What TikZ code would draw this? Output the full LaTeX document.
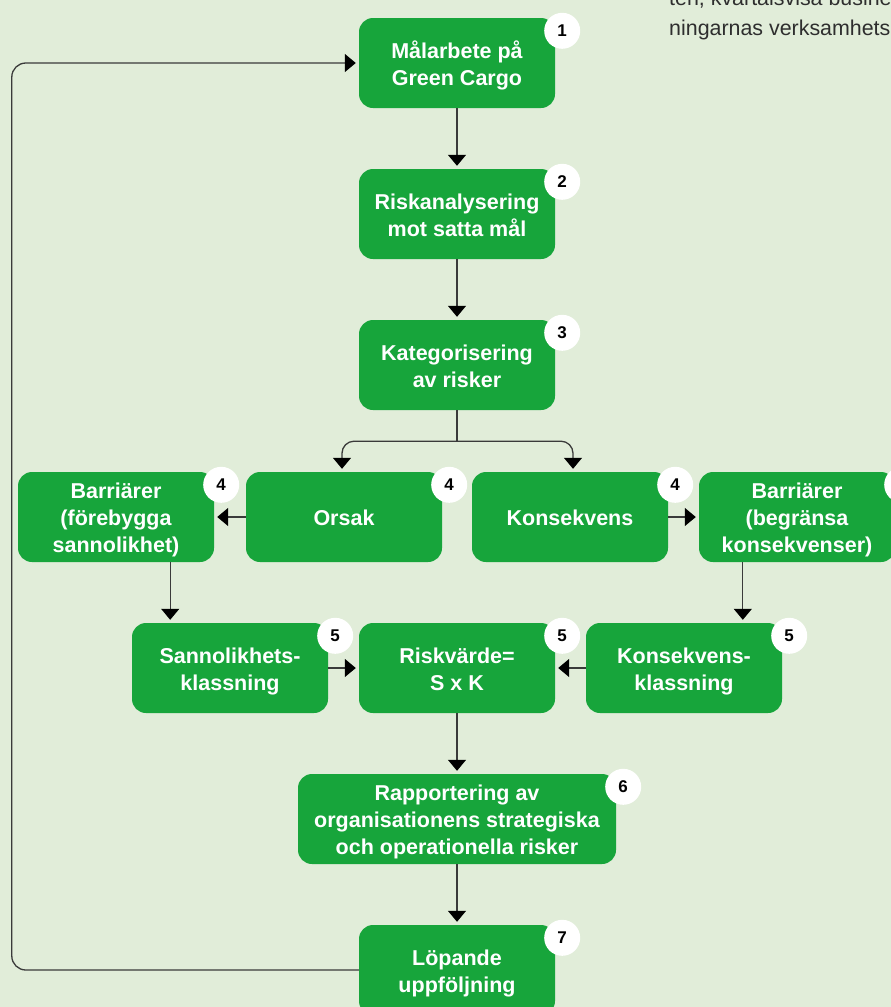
\documentclass[tikz,border=0pt]{standalone}
\usepackage{fontspec}
\setmainfont{Liberation Sans}
\usetikzlibrary{arrows.meta,calc}
\definecolor{bg}{HTML}{E1EDD9}
\definecolor{gc}{HTML}{17A53B}
\definecolor{ln}{HTML}{3A3A3A}
\definecolor{tx}{HTML}{2E2E2E}
\newcommand\topstr{\rule{0pt}{24pt}}
\newcommand\botstr{\rule[-7pt]{0pt}{7pt}}
\tikzset{
  box/.style={rounded corners=14pt, fill=gc, minimum width=196pt, minimum height=90pt,
    text=white, align=center, inner sep=0pt, font=\bfseries\fontsize{21.5}{27}\selectfont},
  badge/.style={circle, fill=white, minimum size=36pt, inner sep=0pt,
    font=\bfseries\fontsize{17}{17}\selectfont},
  conn/.style={draw=ln, line width=1.3pt},
  arr/.style={conn, -{Triangle[width=18pt,length=11pt,fill=black,color=black]}, shorten >=3pt},
  toptext/.style={anchor=base west, inner sep=0pt, text=tx, font=\fontsize{21.4}{24}\selectfont}
}
\begin{document}
\begin{tikzpicture}[x=1pt,y=-1pt]
\useasboundingbox (0,0) rectangle (891,1007);
\clip (0,0) rectangle (891,1007);
\fill[bg] (0,0) rectangle (891,1007);

\node[toptext] (t1) at (669,5) {ten, kvartalsvisa busine};
\node[toptext] (t2) at (669,35) {ningarnas verksamhets};

\node[box] (b1) at (457,63) {\topstr Målarbete på\\Green Cargo\botstr};
\node[box] (b2) at (457,214) {\topstr Riskanalysering\\mot satta mål\botstr};
\node[box] (b3) at (457,365) {\topstr Kategorisering\\av risker\botstr};
\node[box] (b4a) at (116,517) {\topstr Barriärer\\(förebygga\\sannolikhet)\botstr};
\node[box] (b4b) at (344,517) {\topstr Orsak\botstr};
\node[box] (b4c) at (570,517) {\topstr Konsekvens\botstr};
\node[box] (b4d) at (797,517) {\topstr Barriärer\\(begränsa\\konsekvenser)\botstr};
\node[box] (b5a) at (230,668) {\topstr Sannolikhets-\\klassning\botstr};
\node[box] (b5b) at (457,668) {\topstr Riskvärde=\\S x K\botstr};
\node[box] (b5c) at (684,668) {\topstr Konsekvens-\\klassning\botstr};
\node[box, minimum width=318pt] (b6) at (457,819) {\topstr Rapportering av\\organisationens strategiska\\och operationella risker\botstr};
\node[box] (b7) at (457,970) {\topstr Löpande\\uppföljning\botstr};

\node[badge] (n1) at ($(b1.north east)+(7,13)$) {1};
\node[badge] (n2) at ($(b2.north east)+(7,13)$) {2};
\node[badge] (n3) at ($(b3.north east)+(7,13)$) {3};
\node[badge] (n4a) at ($(b4a.north east)+(7,13)$) {4};
\node[badge] (n4b) at ($(b4b.north east)+(7,13)$) {4};
\node[badge] (n4c) at ($(b4c.north east)+(7,13)$) {4};
\node[badge] (n4d) at ($(b4d.north east)+(7,13)$) {4};
\node[badge] (n5a) at ($(b5a.north east)+(7,13)$) {5};
\node[badge] (n5b) at ($(b5b.north east)+(7,13)$) {5};
\node[badge] (n5c) at ($(b5c.north east)+(7,13)$) {5};
\node[badge] (n6) at ($(b6.north east)+(7,13)$) {6};
\node[badge] (n7) at ($(b7.north east)+(7,13)$) {7};

\draw[arr] (b1.south) -- (b2.north);
\draw[arr] (b2.south) -- (b3.north);
\coordinate (split) at ($(b3.south)+(0,31)$);
\draw[conn] (b3.south) -- (split);
\draw[arr, rounded corners=12pt] (split) -| ($(b4b.north)+(-2,0)$);
\draw[arr, rounded corners=12pt] (split) -| ($(b4c.north)+(3,0)$);
\draw[arr] (b4b.west) -- (b4a.east);
\draw[arr] (b4c.east) -- (b4d.west);
\coordinate (pl) at ($(b4a.south east)+(-44,0)$);
\coordinate (pr) at ($(b4d.south west)+(44,0)$);
\draw[arr] (pl) -- (pl |- b5a.north);
\draw[arr] (pr) -- (pr |- b5c.north);
\draw[arr] (b5a.east) -- (b5b.west);
\draw[arr] (b5c.west) -- (b5b.east);
\draw[arr] (b5b.south) -- (b6.north);
\draw[arr] (b6.south) -- (b7.north);
\draw[arr, rounded corners=14pt] (b7.west) -- ++(-347,0) |- (b1.west);
\end{tikzpicture}
\end{document}
